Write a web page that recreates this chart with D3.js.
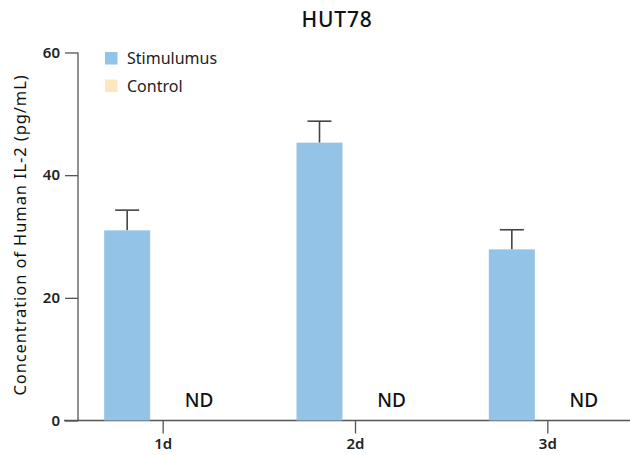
<!DOCTYPE html>
<html>
<head>
<meta charset="utf-8">
<script src="https://cdn.jsdelivr.net/npm/d3@7"></script>
<style>
  body { margin: 0; background: #fff; }
  svg { display: block; font-family: 'Noto Sans', sans-serif; }
</style>
</head>
<body>
<div id="chart"></div>
<script>
// data
const days = ['1d', '2d', '3d'];
const stimulus = [31.0, 45.3, 27.9];
const stimulusErr = [3.3, 3.5, 3.2];
const control = [0, 0, 0]; // not detected
const controlLabels = ['ND', 'ND', 'ND'];
const yTicks = [0, 20, 40, 60];
const seriesNames = ['Stimulumus', 'Control'];
const seriesColors = ['#93c4e8', '#fde8bd'];

const width = 630, height = 455;

const svg = d3.select('#chart')
  .append('svg')
  .attr('width', width)
  .attr('height', height);

const x = d3.scaleBand()
  .domain(days)
  .range([67, 644]);

const y = d3.scaleLinear()
  .domain([0, 60])
  .range([420.5, 52.5]);

const barW = 46;
const offset = 36; // distance from tick to bar centre

// minor ticks every 2 units
const yAxisG = svg.append('g').attr('transform', 'translate(78,0)');
yAxisG.call(d3.axisLeft(y).tickValues(d3.range(0, 61, 2)).tickSize(6).tickFormat(''))
  .call(g => g.select('.domain').remove());
yAxisG.call(d3.axisLeft(y).tickValues(yTicks).tickSize(13).tickPadding(5).tickSizeOuter(0))
  .call(g => g.selectAll('text')
    .style('font-family', "'Noto Sans', sans-serif")
    .style('font-size', '15px')
    .style('font-weight', '600')
    .attr('fill', '#222'));
yAxisG.selectAll('line').attr('stroke', '#555').attr('stroke-width', 1.3);
yAxisG.selectAll('.domain').attr('stroke', '#555').attr('stroke-width', 1.3)
  .attr('d', `M0,${y(60)}V${y(0)}`);

// x axis
const xAxisG = svg.append('g').attr('transform', `translate(0,${y(0)})`);
xAxisG.call(d3.axisBottom(x).tickSize(13).tickPadding(5).tickSizeOuter(0))
  .call(g => g.select('.domain').attr('d', `M64,0H630`))
  .call(g => g.selectAll('text')
    .style('font-family', "'Noto Sans', sans-serif")
    .style('font-size', '15px')
    .style('font-weight', '600')
    .attr('fill', '#222'));
xAxisG.selectAll('line, .domain').attr('stroke', '#555').attr('stroke-width', 1.3);

const cx = d => x(d) + x.bandwidth() / 2;

// error bars
const err = svg.append('g');
days.forEach((d, i) => {
  const c = cx(d) - offset;
  err.append('line')
    .attr('x1', c).attr('x2', c)
    .attr('y1', y(stimulus[i])).attr('y2', y(stimulus[i] + stimulusErr[i]))
    .attr('stroke', '#444').attr('stroke-width', 1.6);
  err.append('line')
    .attr('x1', c - 12).attr('x2', c + 12)
    .attr('y1', y(stimulus[i] + stimulusErr[i])).attr('y2', y(stimulus[i] + stimulusErr[i]))
    .attr('stroke', '#444').attr('stroke-width', 1.6);
});

// bars
svg.append('g')
  .selectAll('rect')
  .data(days)
  .enter()
  .append('rect')
  .attr('x', d => cx(d) - offset - barW / 2)
  .attr('y', (d, i) => y(stimulus[i]))
  .attr('width', barW)
  .attr('height', (d, i) => y(0) - y(stimulus[i]))
  .attr('fill', seriesColors[0]);

svg.append('g')
  .selectAll('rect')
  .data(days)
  .enter()
  .append('rect')
  .attr('x', d => cx(d) + offset - barW / 2)
  .attr('y', (d, i) => y(control[i]))
  .attr('width', barW)
  .attr('height', (d, i) => y(0) - y(control[i]))
  .attr('fill', seriesColors[1]);

// ND labels
svg.append('g')
  .selectAll('text')
  .data(days)
  .enter()
  .append('text')
  .attr('x', d => cx(d) + offset)
  .attr('y', 407)
  .attr('text-anchor', 'middle')
  .style('font-size', '19px')
  .style('font-weight', '500')
  .attr('fill', '#111')
  .text((d, i) => controlLabels[i]);

// title
svg.append('text')
  .attr('x', 337)
  .attr('y', 27)
  .attr('text-anchor', 'middle')
  .style('font-size', '21px')
  .style('font-weight', '500')
  .style('letter-spacing', '0.8px')
  .attr('fill', '#111')
  .text('HUT78');

// y label
svg.append('text')
  .attr('transform', 'translate(26,235) rotate(-90)')
  .attr('text-anchor', 'middle')
  .style('font-size', '16.5px')
  .style('letter-spacing', '0.9px')
  .attr('fill', '#111')
  .text('Concentration of Human IL-2 (pg/mL)');

// legend
const legend = svg.append('g');
seriesNames.forEach((name, i) => {
  const ly = 52 + i * 27.5;
  legend.append('rect')
    .attr('x', 105).attr('y', ly)
    .attr('width', 12.5).attr('height', 12.5)
    .attr('fill', seriesColors[i]);
  legend.append('text')
    .attr('x', 127).attr('y', ly + 12.3)
    .style('font-size', '16px')
    .attr('fill', '#222')
    .text(name);
});
</script>
</body>
</html>
